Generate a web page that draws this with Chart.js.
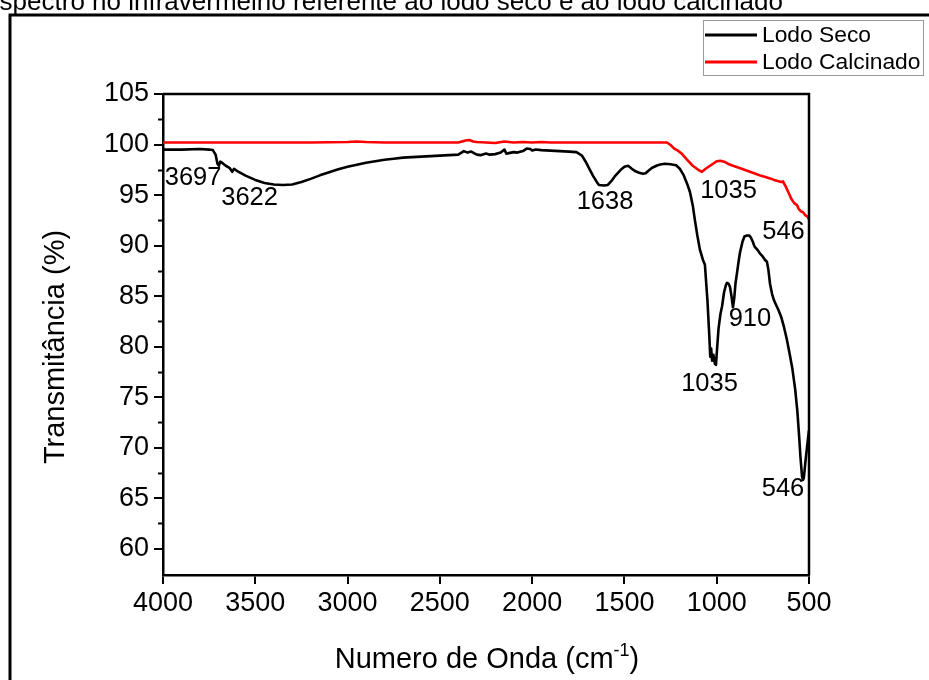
<!DOCTYPE html>
<html>
<head>
<meta charset="utf-8">
<script src="https://cdn.jsdelivr.net/npm/chart.js@4.4.1/dist/chart.umd.min.js"></script>
<style>
  html, body { margin: 0; padding: 0; background: #fff; }
  #wrap { width: 929px; height: 680px; position: relative; overflow: hidden; }
</style>
</head>
<body>
<div id="wrap"><canvas id="ftir" width="929" height="680"></canvas></div>
<script>
// FTIR spectrum: dried sludge (Lodo Seco) and calcined sludge (Lodo Calcinado)
const seriesNames = ['Lodo Seco', 'Lodo Calcinado'];

// Lodo Seco: wavenumber (cm-1) and transmittance (%)
const wnSeco = [
  4000, 3900, 3800, 3750, 3730, 3715, 3705, 3697, 3690, 3680, 3660, 3640, 3625, 3615, 3600,
  3550, 3500, 3450, 3400, 3350, 3300, 3250, 3200, 3150, 3100, 3050, 3000, 2950, 2900, 2850,
  2800, 2750, 2700, 2650, 2600, 2550, 2500, 2450, 2400, 2370, 2350, 2330, 2300, 2280, 2250,
  2230, 2200, 2170, 2150, 2140, 2100, 2080, 2050, 2030, 2010, 2000, 1980, 1950, 1900, 1850,
  1800, 1760, 1730, 1710, 1690, 1670, 1650, 1638, 1610, 1590, 1570, 1550, 1520, 1500, 1480,
  1460, 1440, 1420, 1400, 1385, 1370, 1350, 1320, 1300, 1280, 1250, 1220, 1200, 1180, 1160,
  1145, 1130, 1118, 1105, 1091, 1075, 1064, 1050, 1040, 1035, 1030, 1025, 1018, 1010, 1004,
  998, 990, 980, 971, 960, 950, 944, 935, 928, 920, 912, 905, 898, 890, 880,
  874, 860, 850, 836, 825, 815, 805, 795, 785, 776, 765, 750, 739, 728, 720,
  711, 700, 690, 680, 665, 650, 635, 620, 605, 590, 575, 563, 553, 546, 538,
  533, 528, 520, 511, 505, 500
];
const tSeco = [
  99.5, 99.5, 99.55, 99.5, 99.45, 99.0, 98.1, 97.9, 98.3, 98.2, 97.9, 97.7, 97.3, 97.6, 97.4,
  96.9, 96.5, 96.2, 96.05, 96.0, 96.05, 96.3, 96.6, 96.95, 97.25, 97.55, 97.8, 98.0, 98.2, 98.35,
  98.5, 98.6, 98.7, 98.75, 98.8, 98.85, 98.9, 98.95, 99.0, 99.35, 99.2, 99.3, 99.0, 98.95, 99.1,
  99.0, 99.05, 99.2, 99.5, 99.1, 99.25, 99.2, 99.35, 99.6, 99.55, 99.4, 99.5, 99.45, 99.4, 99.35,
  99.3, 99.25, 98.9, 98.3, 97.6, 96.9, 96.3, 96.0, 95.95, 96.0, 96.4, 96.9, 97.5, 97.8, 97.9,
  97.6, 97.35, 97.2, 97.1, 97.15, 97.4, 97.7, 97.95, 98.05, 98.1, 98.05, 97.95, 97.6, 97.0, 96.1,
  95.3, 94.0, 92.5, 91.0, 89.6, 88.6, 88.1, 84.5, 81.0, 79.0, 79.8, 78.6, 79.2, 78.3, 78.2,
  79.8, 81.8, 83.2, 84.0, 85.4, 86.1, 86.3, 86.2, 85.9, 85.0, 83.9, 84.8, 86.3, 87.3, 88.6,
  89.3, 90.4, 90.9, 91.0, 91.0, 90.8, 90.4, 89.9, 89.7, 89.5, 89.2, 88.9, 88.6, 88.4, 87.6,
  86.2, 85.2, 84.6, 84.2, 83.6, 82.9, 81.9, 80.7, 79.3, 77.8, 75.8, 73.6, 71.0, 69.0, 67.2,
  66.8, 67.0, 68.5, 70.0, 71.0, 71.7
];

// Lodo Calcinado: wavenumber (cm-1) and transmittance (%)
const wnCalc = [
  4000, 3800, 3600, 3400, 3200, 3000, 2950, 2900, 2800, 2600, 2400, 2360, 2340, 2320, 2300,
  2250, 2200, 2150, 2100, 2050, 2000, 1950, 1900, 1800, 1600, 1400, 1300, 1270, 1250, 1230,
  1215, 1190, 1161, 1130, 1100, 1080, 1060, 1040, 1020, 1000, 980, 960, 940, 912, 880,
  850, 820, 790, 760, 740, 711, 690, 670, 650, 641, 625, 610, 595, 580, 565,
  555, 545, 532, 520, 510, 500
];
const tCalc = [
  100.2, 100.2, 100.2, 100.2, 100.2, 100.25, 100.3, 100.25, 100.2, 100.2, 100.2, 100.4, 100.45, 100.3, 100.25,
  100.2, 100.15, 100.3, 100.2, 100.25, 100.2, 100.25, 100.2, 100.2, 100.2, 100.2, 100.2, 100.2, 99.95, 99.6,
  99.45, 99.1, 98.5, 97.9, 97.5, 97.3, 97.6, 97.85, 98.1, 98.35, 98.4, 98.3, 98.1, 97.9, 97.7,
  97.5, 97.3, 97.1, 96.9, 96.8, 96.65, 96.5, 96.4, 96.3, 96.35, 95.8, 95.2, 94.6, 94.2, 94.0,
  93.6, 93.4, 93.3, 93.0, 92.9, 92.6
];

// Axis ticks
const xTickValues = [4000, 3500, 3000, 2500, 2000, 1500, 1000, 500];
const yTickValues = [60, 65, 70, 75, 80, 85, 90, 95, 100, 105];
const yMinorValues = [62.5, 67.5, 72.5, 77.5, 82.5, 87.5, 92.5, 97.5, 102.5];

// Band assignments written next to the curves (wavenumber, transmittance anchor)
const bandLabels = ['3697', '3622', '1638', '1035', '546', '910', '1035', '546'];
const bandLabelX = [3837, 3531, 1605, 936, 638, 820, 1039, 641];
const bandLabelY = [96.7, 94.75, 94.3, 95.4, 91.3, 82.7, 76.3, 65.9];

const FONT = "'Liberation Sans', Arial, Helvetica, sans-serif";
const COLORS = ['#000000', '#ff0000'];

const toPoints = (xs, ys) => xs.map((x, i) => ({ x: x, y: ys[i] }));

const decorations = {
  id: 'decorations',
  beforeDraw(chart) {
    const ctx = chart.ctx;
    ctx.save();
    ctx.fillStyle = '#ffffff';
    ctx.fillRect(0, 0, chart.width, chart.height);
    ctx.restore();
  },
  afterDraw(chart) {
    const ctx = chart.ctx;
    const area = chart.chartArea;
    const xs = chart.scales.x;
    const ys = chart.scales.y;
    ctx.save();

    // Page caption along the top edge
    ctx.fillStyle = '#000';
    ctx.font = '26px ' + FONT;
    ctx.textAlign = 'right';
    ctx.textBaseline = 'alphabetic';
    ctx.fillText('Espectro no infravermelho referente ao lodo seco e ao lodo calcinado', 783, 10);

    // Outer frame of the figure
    ctx.strokeStyle = '#000';
    ctx.lineWidth = 3;
    ctx.beginPath();
    ctx.moveTo(10, 690);
    ctx.lineTo(10, 15);
    ctx.lineTo(940, 15);
    ctx.stroke();

    // Closing top and right edges of the plot box
    ctx.lineWidth = 2.5;
    ctx.beginPath();
    ctx.moveTo(area.left, area.top);
    ctx.lineTo(area.right, area.top);
    ctx.lineTo(area.right, area.bottom);
    ctx.stroke();

    // Minor ticks on the transmittance axis
    ctx.lineWidth = 2;
    yMinorValues.forEach(v => {
      const py = Math.round(ys.getPixelForValue(v)) + 0.5;
      ctx.beginPath();
      ctx.moveTo(area.left - 5, py);
      ctx.lineTo(area.left, py);
      ctx.stroke();
    });

    // Band labels
    ctx.fillStyle = '#000';
    ctx.font = '25.5px ' + FONT;
    ctx.textAlign = 'center';
    ctx.textBaseline = 'middle';
    bandLabels.forEach((t, i) => {
      ctx.fillText(t, xs.getPixelForValue(bandLabelX[i]), ys.getPixelForValue(bandLabelY[i]));
    });

    // Axis titles
    ctx.font = '29px ' + FONT;
    ctx.save();
    ctx.translate(56, 347);
    ctx.rotate(-Math.PI / 2);
    ctx.textAlign = 'center';
    ctx.textBaseline = 'middle';
    ctx.fillText('Transmitância (%)', 0, 0);
    ctx.restore();

    const main = 'Numero de Onda (cm';
    const sup = '-1';
    const close = ')';
    ctx.textBaseline = 'alphabetic';
    ctx.textAlign = 'left';
    ctx.font = '29px ' + FONT;
    const wMain = ctx.measureText(main).width;
    const wClose = ctx.measureText(close).width;
    ctx.font = '18px ' + FONT;
    const wSup = ctx.measureText(sup).width;
    const total = wMain + wSup + wClose;
    let tx = 487 - total / 2;
    const base = 668;
    ctx.font = '29px ' + FONT;
    ctx.fillText(main, tx, base);
    tx += wMain;
    ctx.font = '18px ' + FONT;
    ctx.fillText(sup, tx, base - 12);
    tx += wSup;
    ctx.font = '29px ' + FONT;
    ctx.fillText(close, tx, base);

    // Legend box
    ctx.strokeStyle = '#9a9a9a';
    ctx.lineWidth = 1;
    ctx.strokeRect(703.5, 20.5, 220, 55);
    ctx.font = '22.8px ' + FONT;
    ctx.textAlign = 'left';
    ctx.textBaseline = 'middle';
    const rows = [35, 62];
    chart.data.datasets.forEach((ds, i) => {
      ctx.strokeStyle = ds.borderColor;
      ctx.lineWidth = 3;
      ctx.beginPath();
      ctx.moveTo(705, rows[i]);
      ctx.lineTo(757, rows[i]);
      ctx.stroke();
      ctx.fillStyle = '#000';
      ctx.fillText(ds.label, 762, rows[i] + 1);
    });

    ctx.restore();
  }
};

new Chart(document.getElementById('ftir'), {
  type: 'line',
  data: {
    datasets: [
      { label: seriesNames[0], data: toPoints(wnSeco, tSeco), borderColor: COLORS[0] },
      { label: seriesNames[1], data: toPoints(wnCalc, tCalc), borderColor: COLORS[1] }
    ]
  },
  options: {
    responsive: false,
    animation: false,
    devicePixelRatio: 1,
    layout: { padding: { top: 94, right: 120, left: 0, bottom: 0 } },
    elements: {
      point: { radius: 0, hoverRadius: 0 },
      line: { borderWidth: 2.6, tension: 0, borderJoinStyle: 'round', borderCapStyle: 'round', fill: false }
    },
    plugins: { legend: { display: false }, tooltip: { enabled: false } },
    scales: {
      x: {
        type: 'linear',
        reverse: true,
        min: 500,
        max: 4000,
        afterBuildTicks: s => { s.ticks = xTickValues.map(v => ({ value: v })); },
        afterFit: s => { s.height = 105; },
        grid: { drawOnChartArea: false, drawTicks: true, tickLength: 9, color: '#000', lineWidth: 2 },
        border: { display: true, color: '#000', width: 2.5 },
        ticks: {
          color: '#000', font: { family: FONT, size: 27 }, padding: 3, maxRotation: 0, autoSkip: false,
          callback: v => String(v)
        }
      },
      y: {
        type: 'linear',
        min: 57.4,
        max: 105,
        afterBuildTicks: s => { s.ticks = yTickValues.map(v => ({ value: v })); },
        afterFit: s => { s.width = 163; },
        grid: { drawOnChartArea: false, drawTicks: true, tickLength: 9, color: '#000', lineWidth: 2 },
        border: { display: true, color: '#000', width: 2.5 },
        ticks: {
          color: '#000', font: { family: FONT, size: 27 }, padding: 5, autoSkip: false,
          callback: v => String(v)
        }
      }
    }
  },
  plugins: [decorations]
});
</script>
</body>
</html>
